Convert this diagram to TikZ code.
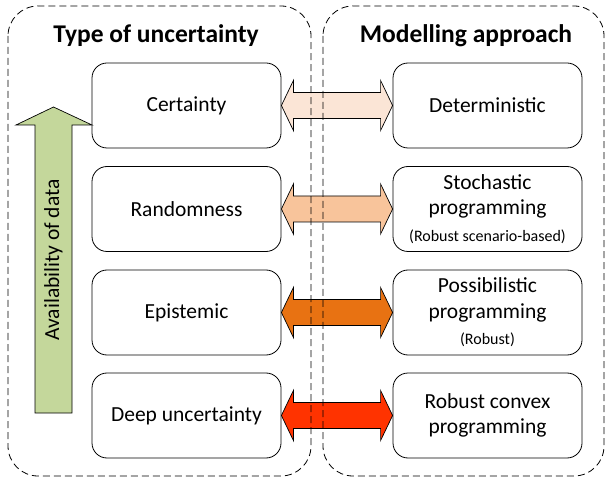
\documentclass[tikz,border=0pt]{standalone}
\usepackage{fontspec}
\setmainfont{Carlito}
\usepackage{xcolor}
\usetikzlibrary{calc}

\definecolor{certfill}{HTML}{FBE5D6}
\definecolor{randfill}{HTML}{F8C49B}
\definecolor{epifill}{HTML}{E87212}
\definecolor{deepfill}{HTML}{FF3300}
\definecolor{datafill}{HTML}{C4D79B}

% fat two-headed arrow from the east side of #1 to the west side of #2
\newcommand{\bothways}[3]{%
	\draw[fill=#3, line width=0.7pt] (#1.east) -- ++(12,-25) -- ++(0,12)
		-- ($(#2.west)+(-12,-13)$) -- ++(0,-12) -- (#2.west) -- ++(-12,25)
		-- ++(0,-12) -- ($(#1.east)+(12,13)$) -- ++(0,12) -- cycle;}
\newcommand{\smallnote}{\fontsize{16}{19}\selectfont}

\begin{document}
\begin{tikzpicture}[x=1pt, y=-1pt,
	kindbox/.style={draw, line width=0.8pt, rounded corners=15pt, minimum width=189pt,
		minimum height=85pt, align=center, inner sep=0pt,
		font=\fontsize{21.5}{25.5}\selectfont},
	headline/.style={anchor=base, font=\fontsize{25.5}{30}\selectfont\bfseries},
	frame/.style={draw, line width=0.8pt, dash pattern=on 7pt off 4pt, rounded corners=30pt}]
	\useasboundingbox (0,0) rectangle (605,478);
	\node[headline] (ttype) at (156,43) {Type of uncertainty};
	\node[headline] (tmodel) at (466,43) {Modelling approach};
	\node[kindbox] (cert) at (186.5,105.5) {Certainty};
	\node[kindbox] (rand) at (186.5,209) {Randomness};
	\node[kindbox] (epi) at (186.5,312.5) {Epistemic};
	\node[kindbox] (deep) at (186.5,415.5) {Deep uncertainty};
	\node[kindbox] (det) at (487.5,105.5) {Deterministic};
	\node[kindbox] (stoch) at (487.5,209) {Stochastic\\programming\\[1pt]{\smallnote (Robust scenario-based)}};
	\node[kindbox] (poss) at (487.5,312.5) {Possibilistic\\programming\\[1pt]{\smallnote (Robust)}};
	\node[kindbox] (conv) at (487.5,415.5) {Robust convex\\programming};
	\bothways{cert}{det}{certfill}
	\bothways{rand}{stoch}{randfill}
	\bothways{epi}{poss}{epifill}
	\bothways{deep}{conv}{deepfill}
	\draw[fill=datafill, line width=0.7pt] (35,413) -- (35,125) -- (16,125) -- (53.5,107)
		-- (92,125) -- (72,125) -- (72,413) -- cycle;
	\node[rotate=90, font=\fontsize{21.5}{25.5}\selectfont] (avail) at (53.5,260) {Availability of data};
	\draw[frame] (8,6) rectangle (311,476);
	\draw[frame] (323,6) rectangle (604,476);
\end{tikzpicture}
\end{document}
